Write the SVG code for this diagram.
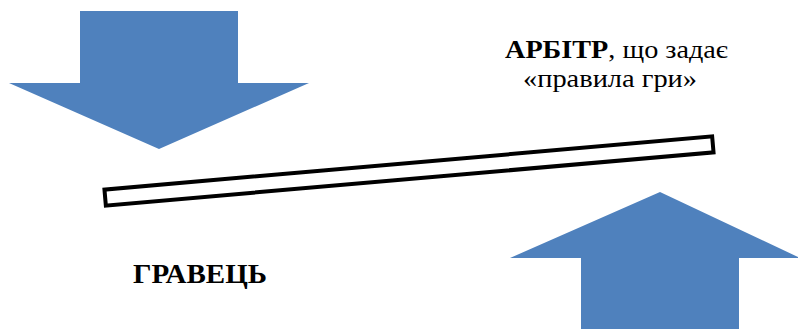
<svg xmlns="http://www.w3.org/2000/svg" width="798" height="329" viewBox="0 0 798 329">
<style>
.arrow{fill:#4F81BD;stroke:none}
.bar{fill:#FFFFFF;stroke:#000000;stroke-width:4}
.t{font-family:"Liberation Serif","DejaVu Serif",serif;fill:#000000}
.b{font-weight:bold}
</style>
<rect width="798" height="329" fill="#FFFFFF"/>
<g id="arrow-down">
<polygon class="arrow" points="80,11 238,11 238,83 309,83 159,149 9,83 80,83"/>
</g>
<g id="arrow-up">
<polygon class="arrow" points="660,192 798,257 798,258 739,258 739,329 581,329 581,258 510,258"/>
</g>
<g id="bar">
<rect class="bar" x="104" y="163" width="610" height="16" transform="rotate(-5 409 171)"/>
</g>
<g id="arbiter">
<text class="t" x="505" y="58" font-size="26" textLength="223" lengthAdjust="spacingAndGlyphs"><tspan class="b">АРБІТР</tspan>, що задає</text>
<text class="t" x="523" y="87" font-size="26" textLength="174" lengthAdjust="spacingAndGlyphs">«правила гри»</text>
</g>
<g id="player">
<text class="t b" x="133" y="283" font-size="27" textLength="134" lengthAdjust="spacingAndGlyphs">ГРАВЕЦЬ</text>
</g>
<g id="connectors"></g>
</svg>
